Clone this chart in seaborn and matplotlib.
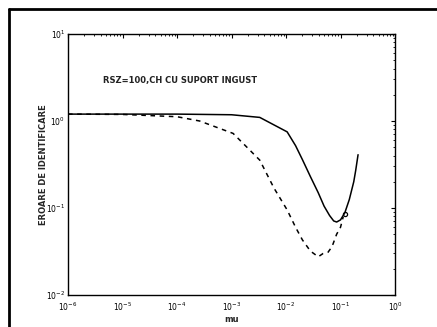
import matplotlib
matplotlib.use("Agg")
import matplotlib.pyplot as plt
import seaborn as sns
import pandas as pd

# Data
mu_solid = [1e-6, 1e-5, 1e-4, 1e-3, 3.3e-3, 1.05e-2, 1.5e-2, 2.0e-2, 2.8e-2, 3.9e-2, 5.0e-2,
            6.3e-2, 7.5e-2, 8.5e-2, 1.0e-1, 1.2e-1, 1.45e-1, 1.75e-1, 1.9e-1, 2.1e-1]
err_solid = [1.2, 1.2, 1.2, 1.18, 1.1, 0.75, 0.52, 0.36, 0.23, 0.15, 0.105,
             0.082, 0.071, 0.069, 0.073, 0.088, 0.125, 0.2, 0.27, 0.41]
mu_dashed = [1e-6, 1e-5, 1e-4, 2.6e-4, 1.07e-3, 1.8e-3, 3.3e-3, 6.0e-3, 1.05e-2, 1.5e-2, 2.0e-2,
             2.8e-2, 3.9e-2, 4.8e-2, 5.9e-2, 7.0e-2, 8.5e-2, 1.0e-1, 1.12e-1]
err_dashed = [1.2, 1.19, 1.12, 1.0, 0.72, 0.52, 0.355, 0.17, 0.095, 0.06, 0.043,
              0.032, 0.0275, 0.03, 0.031, 0.036, 0.05, 0.06, 0.079]
marker_mu = [1.2e-1]
marker_err = [0.085]
annotation = "RSZ=100,CH CU SUPORT INGUST"
x_label = "mu"
y_label = "EROARE DE IDENTIFICARE"

sns.set_theme(style="white")
plt.rcParams["font.family"] = ["DejaVu Sans"]

fig = plt.figure(figsize=(4.37, 3.27), dpi=100)
ax = fig.add_axes([68 / 437, 1 - 295 / 327, 327 / 437, 261 / 327])

df_s = pd.DataFrame({"mu": mu_solid, "err": err_solid})
df_d = pd.DataFrame({"mu": mu_dashed, "err": err_dashed})
sns.lineplot(data=df_s, x="mu", y="err", ax=ax, color="black", lw=1.1, linestyle="-")
sns.lineplot(data=df_d, x="mu", y="err", ax=ax, color="black", lw=1.1, linestyle=(0, (3, 3)))
ax.plot(marker_mu, marker_err, marker="o", ms=3, mfc="none", mec="black", mew=0.9, ls="none")

ax.set_xscale("log")
ax.set_yscale("log")
ax.set_xlim(1e-6, 1e0)
ax.set_ylim(1e-2, 1e1)
ax.set_xlabel(x_label, fontsize=6, fontweight="bold")
ax.set_ylabel(y_label, fontsize=6, fontweight="bold")
ax.yaxis.set_label_coords(-0.062, 0.5)
ax.xaxis.set_label_coords(0.5, -0.078)
ax.tick_params(which="both", direction="in", top=True, right=True, labelsize=5.5, colors="black", pad=2)
ax.tick_params(axis="x", which="both", pad=4)
ax.tick_params(which="major", length=3, width=0.8)
ax.tick_params(which="minor", length=1.5, width=0.6)
for s in ax.spines.values():
    s.set_color("black")
    s.set_linewidth(1.0)

ax.text(0.107, 0.82, annotation, transform=ax.transAxes, fontsize=6, fontweight="bold",
        va="center", ha="left", color="#222222")

# outer frame (left and top lines)
fig.add_artist(plt.Line2D([9 / 437, 9 / 437], [0, 1 - 9 / 327], transform=fig.transFigure, color="black", lw=2))
fig.add_artist(plt.Line2D([9 / 437, 1], [1 - 9 / 327, 1 - 9 / 327], transform=fig.transFigure, color="black", lw=2))

fig.savefig("out.png", dpi=100)
